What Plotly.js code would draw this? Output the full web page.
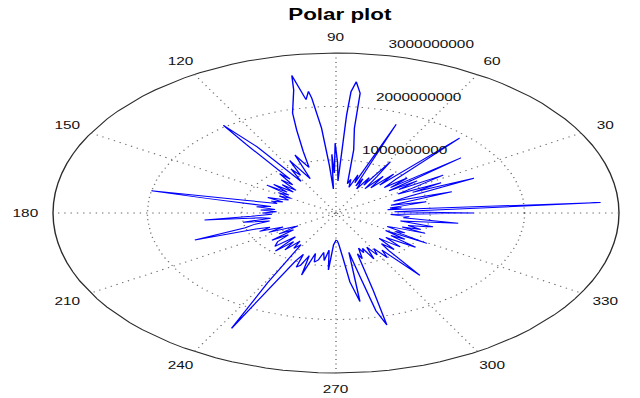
<!DOCTYPE html>
<html><head><meta charset="utf-8">
<script src="https://cdn.plot.ly/plotly-3.0.1.min.js"></script>
<style>
html,body{margin:0;padding:0;background:#fff;overflow:hidden;width:640px;height:398px;}
#wrap{width:640px;height:398px;overflow:hidden;}
#chart{width:458px;height:398px;transform:scaleX(1.39738);transform-origin:0 0;}
</style></head><body><div id="wrap"><div id="chart"></div></div>
<script>
const chartTitle = 'Polar plot';

// angle (degrees) and radius of every point of the curve, in drawing order
const thetaDeg = [0,2,4,5,6.5,8,9.5,11,12.5,14,16,18,20,22,24,25.5,27,28.5,30,32,33.5,35,36.5,38,39.5,41,43,45,47,48.5,50,52,54,56,57.5,59,60.5,62,64,66,67.5,69,70.5,72,74,76,77.5,79,81,83,83.5,85,86,86.5,87,88,89,90.4,91.3,92.3,93.5,94.5,95.5,96.8,97.3,98.5,100.3,101,103.8,105,106.8,108.5,110,111.8,113,115,116.5,118,120,122,124,126,126.5,127.5,129,131,133,135,137,139,141,143,144.5,146,148,150,152,154,156,158,160,162,164,166,168,168.7,170,172,174,176,178,180,182,184,185.4,186.5,188,190,192,194,196,198.7,199.5,201,203,205,207,209,211,213,215,217,219,221,224,226,228,230,232,234,236,238,241,242.9,243.5,244.5,246,247.5,249,250.5,252.6,254,256,258,260,262,264,265.7,267.5,269,270,271.5,273,275,276.5,278.7,279.5,280.5,282,283,284.4,285.2,286.5,288,290,291.5,293,295,297,299,301,303,305,307.2,308.5,310,312,314,315.5,317,319,321,322.7,324,326,328,329.4,331,333,335,336.5,338,339.5,341,343,345,346,347.5,349,350.5,351.5,353,355,357,358.5,360];
const radius = [1.46e9,0.62e9,2.81e9,1.0e9,0.55e9,0.7e9,0.58e9,0.75e9,0.98e9,0.6e9,0.8e9,1.29e9,0.65e9,0.85e9,1.6e9,0.9e9,1.25e9,0.75e9,0.95e9,1.34e9,0.8e9,1.05e9,0.7e9,1.68e9,0.75e9,1.0e9,0.7e9,0.9e9,1.92e9,0.7e9,0.95e9,0.6e9,0.85e9,0.55e9,0.8e9,1.12e9,0.6e9,0.75e9,0.5e9,0.7e9,0.55e9,1.78e9,0.6e9,0.75e9,0.5e9,0.65e9,0.56e9,0.76e9,1.2e9,1.6e9,2.26e9,2.47e9,2.28e9,1.84e9,1.1e9,0.6e9,0.95e9,1.31e9,0.75e9,1.1e9,0.45e9,0.9e9,1.6e9,2.17e9,2.3e9,2.15e9,2.62e9,2.35e9,1.93e9,1.61e9,1.2e9,0.9e9,1.0e9,1.17e9,0.7e9,0.85e9,1.1e9,0.8e9,0.95e9,0.7e9,1.5e9,2.03e9,1.6e9,0.8e9,0.95e9,0.7e9,0.85e9,0.6e9,0.78e9,0.6e9,0.85e9,0.65e9,0.9e9,0.6e9,0.72e9,0.55e9,0.68e9,0.56e9,0.62e9,0.78e9,0.6e9,0.72e9,0.65e9,0.97e9,2.0e9,1.4e9,0.7e9,0.85e9,0.65e9,0.8e9,0.63e9,0.78e9,0.68e9,0.9e9,1.4e9,0.8e9,0.7e9,1.0e9,0.72e9,0.9e9,1.0e9,1.58e9,0.9e9,0.75e9,0.88e9,0.62e9,0.8e9,0.58e9,0.47e9,0.72e9,0.55e9,0.85e9,0.65e9,0.82e9,0.9e9,0.62e9,0.96e9,0.7e9,0.88e9,0.65e9,0.8e9,0.7e9,1.5e9,2.43e9,1.7e9,1.0e9,0.85e9,1.1e9,1.05e9,0.85e9,1.22e9,0.79e9,0.95e9,0.9e9,0.75e9,0.9e9,0.7e9,1.07e9,0.6e9,0.53e9,0.51e9,0.52e9,0.6e9,0.85e9,1.3e9,1.68e9,1.1e9,0.75e9,1.2e9,1.88e9,2.17e9,1.5e9,0.8e9,0.9e9,0.7e9,0.8e9,0.72e9,0.95e9,0.72e9,0.9e9,0.78e9,1.0e9,0.85e9,1.47e9,0.9e9,0.75e9,0.92e9,0.66e9,0.8e9,0.93e9,0.7e9,0.85e9,1.06e9,0.72e9,0.88e9,0.62e9,1.12e9,0.72e9,0.82e9,0.6e9,0.7e9,1.02e9,0.75e9,0.95e9,0.8e9,1.0e9,1.06e9,0.7e9,0.85e9,0.99e9,1.31e9,0.72e9,0.78e9,0.58e9,0.8e9,1.46e9];

const ringTicks = [1e9, 2e9, 3e9];
const ringLabels = ['1000000000', '2000000000', '3000000000'];
const spokeAngles = [0, 30, 60, 90, 120, 150];
const angleTicks = [30, 60, 90, 120, 150, 180, 210, 240, 270, 300, 330];
const angleLabels = ['30', '60', '90', '120', '150', '180', '210', '240', '270', '300', '330'];

const rMax = ringTicks[ringTicks.length - 1];
const rInc = ringTicks[0];
const D = Math.PI / 180;
const cx = (t, r) => r * Math.cos(t * D);
const cy = (t, r) => r * Math.sin(t * D);

const fontFam = '"Liberation Sans", Arial, Helvetica, sans-serif';
const traces = [];

// circle paths
const circleSteps = [];
for (let i = 0; i <= 100; i++) circleSteps.push(i * 3.6);

ringTicks.forEach((rv, i) => {
  const outer = i === ringTicks.length - 1;
  traces.push({
    type: 'scatter', mode: 'lines',
    x: circleSteps.map(t => cx(t, rv)), y: circleSteps.map(t => cy(t, rv)),
    line: outer ? {color: '#2b2b2b', width: 1} : {color: '#6a6a6a', width: 1, dash: '1px,3.5px'},
    hoverinfo: 'skip', showlegend: false
  });
});

// spokes
const sx = [], sy = [];
spokeAngles.forEach(a => {
  sx.push(cx(a, rMax), cx(a + 180, rMax), null);
  sy.push(cy(a, rMax), cy(a + 180, rMax), null);
});
traces.push({
  type: 'scatter', mode: 'lines', x: sx, y: sy,
  line: {color: '#6a6a6a', width: 1, dash: '1px,3.5px'},
  hoverinfo: 'skip', showlegend: false
});

// data
traces.push({
  type: 'scatter', mode: 'lines',
  x: thetaDeg.map((t, i) => cx(t, radius[i])),
  y: thetaDeg.map((t, i) => cy(t, radius[i])),
  line: {color: 'rgb(0,0,255)', width: 1},
  hoverinfo: 'skip', showlegend: false
});

const annotations = [];
angleTicks.forEach((a, i) => {
  annotations.push({
    x: cx(a, 1.1 * rMax), y: cy(a, 1.1 * rMax), xref: 'x', yref: 'y',
    text: angleLabels[i], showarrow: false, xanchor: 'center', yanchor: 'middle',
    font: {family: fontFam, size: 11, color: '#111'}
  });
});
ringTicks.forEach((rv, i) => {
  const rl = rv + rInc / 20;
  annotations.push({
    x: cx(82, rl), y: cy(82, rl), xref: 'x', yref: 'y',
    text: ringLabels[i], showarrow: false, xanchor: 'left', yanchor: 'bottom', xshift: 7,
    font: {family: fontFam, size: 11, color: '#111'}
  });
});

const layout = {
  width: 458, height: 398,
  margin: {l: 0, r: 0, t: 0, b: 0, pad: 0},
  paper_bgcolor: '#fff', plot_bgcolor: '#fff',
  title: {text: chartTitle, x: 0.531, xanchor: 'center', y: 0.965, yanchor: 'middle',
          font: {family: fontFam, size: 16, weight: 'bold', color: '#000'}},
  xaxis: {range: [-3.5618e9, 3.2226e9], visible: false, showgrid: false, zeroline: false, fixedrange: true},
  yaxis: {range: [-3.469e9, 3.994e9], visible: false, showgrid: false, zeroline: false, fixedrange: true},
  showlegend: false, hovermode: false,
  annotations: annotations
};

Plotly.newPlot('chart', traces, layout, {displayModeBar: false, staticPlot: true});
</script></body></html>
